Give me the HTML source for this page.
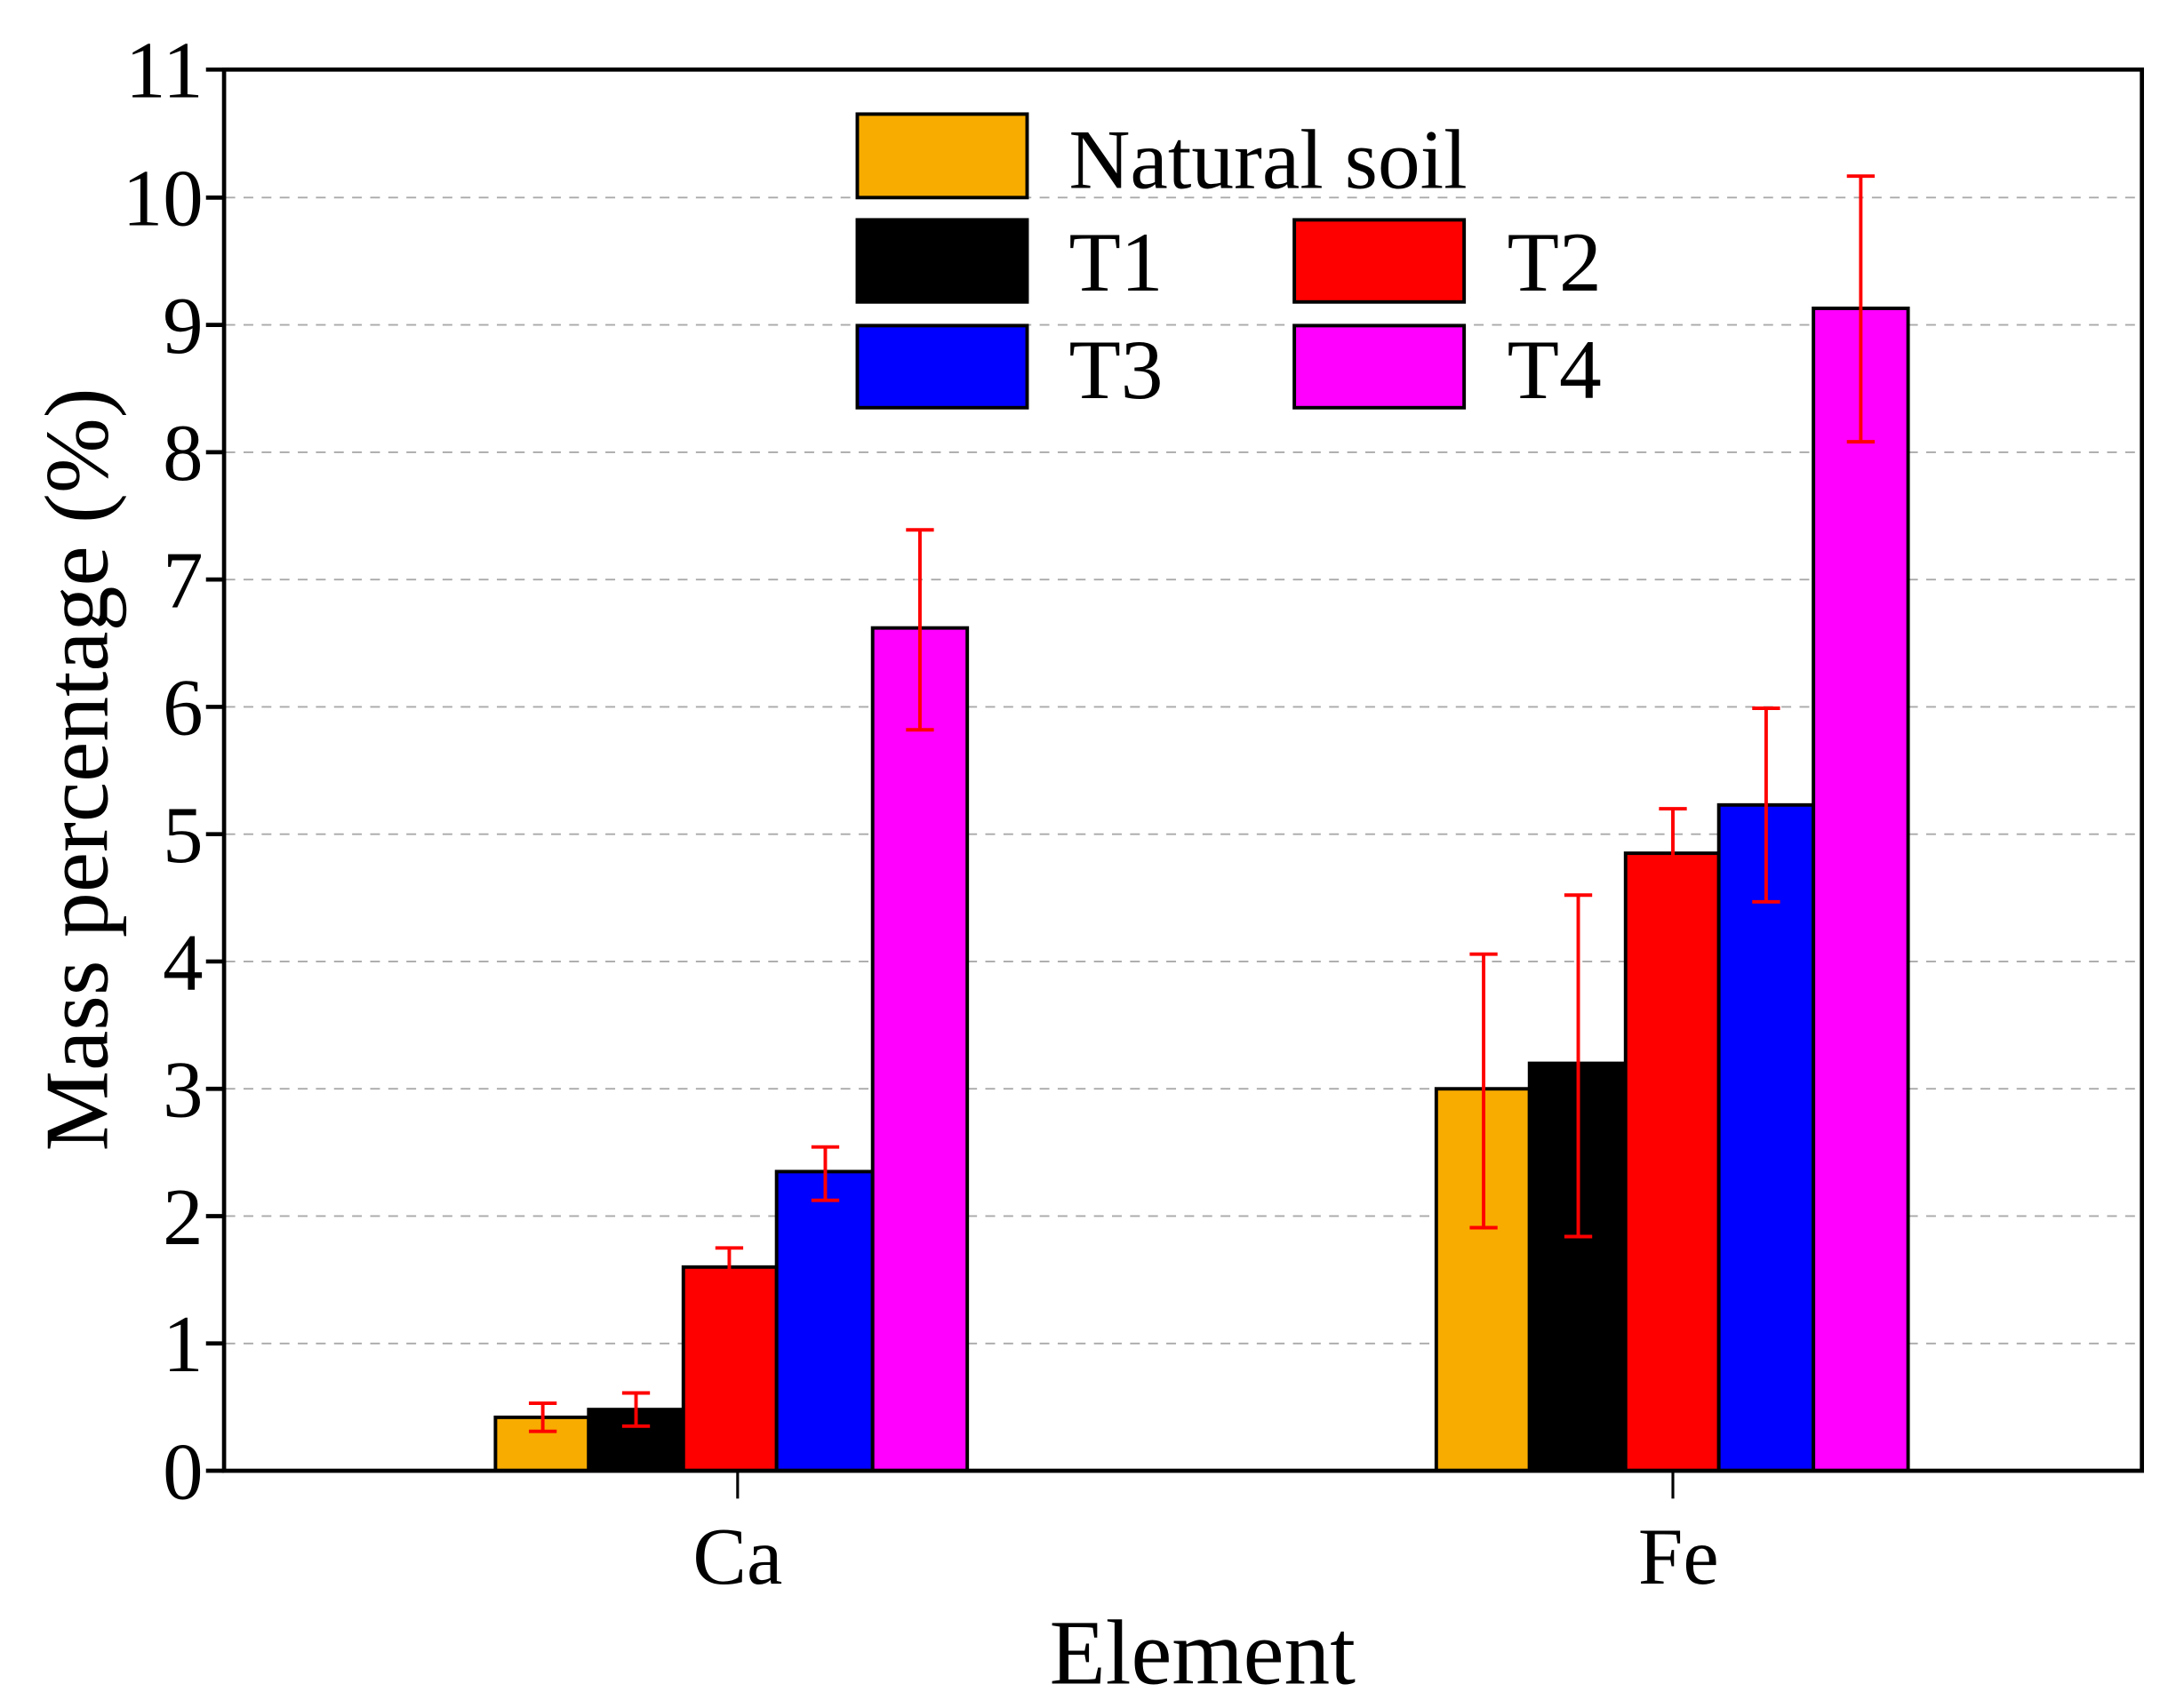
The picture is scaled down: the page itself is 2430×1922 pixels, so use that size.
<!DOCTYPE html>
<html><head><meta charset="utf-8"><style>html,body{margin:0;padding:0;background:#fff}svg{display:block}</style></head>
<body>
<svg width="2430" height="1922" viewBox="0 0 1552 1227.5" preserveAspectRatio="none" xmlns="http://www.w3.org/2000/svg" font-family="Liberation Serif, serif">
<rect width="1552" height="1227.5" fill="#fff"/>
<g stroke="#aaa" stroke-width="1.2" stroke-dasharray="7,6">
<line x1="162" x2="1538" y1="965.5" y2="965.5"/>
<line x1="162" x2="1538" y1="874" y2="874"/>
<line x1="162" x2="1538" y1="782.5" y2="782.5"/>
<line x1="162" x2="1538" y1="691" y2="691"/>
<line x1="162" x2="1538" y1="599.5" y2="599.5"/>
<line x1="162" x2="1538" y1="508" y2="508"/>
<line x1="162" x2="1538" y1="416.5" y2="416.5"/>
<line x1="162" x2="1538" y1="325" y2="325"/>
<line x1="162" x2="1538" y1="233.5" y2="233.5"/>
<line x1="162" x2="1538" y1="142" y2="142"/>
</g>
<g stroke="#000" stroke-width="2.5">
<rect x="356" y="1018.6" width="67" height="38.4" fill="#f8ac00"/>
<rect x="423" y="1013" width="68" height="44" fill="#000"/>
<rect x="491" y="910.6" width="67" height="146.4" fill="#ff0000"/>
<rect x="558" y="842" width="69" height="215" fill="#0000ff"/>
<rect x="627" y="451.3" width="68" height="605.7" fill="#ff00ff"/>
<rect x="1032" y="782.5" width="67" height="274.5" fill="#f8ac00"/>
<rect x="1099" y="764.2" width="69" height="292.8" fill="#000"/>
<rect x="1168" y="613.2" width="67" height="443.8" fill="#ff0000"/>
<rect x="1235" y="578.5" width="68" height="478.5" fill="#0000ff"/>
<rect x="1303" y="221.6" width="68" height="835.4" fill="#ff00ff"/>
</g>
<g stroke="#f00" stroke-width="2.5" fill="none">
<path d="M390 1008.5V1028.7M380 1008.5H400M380 1028.7H400"/>
<path d="M457 1001.1V1024.9M447 1001.1H467M447 1024.9H467"/>
<path d="M524 896.9V924.4M514 896.9H534M514 924.4H534"/>
<path d="M593 824.3V862.6M583 824.3H603M583 862.6H603"/>
<path d="M661 380.8V524.5M651 380.8H671M651 524.5H671"/>
<path d="M1066 685.7V882.3M1056 685.7H1076M1056 882.3H1076"/>
<path d="M1134 643.3V888.7M1124 643.3H1144M1124 888.7H1144"/>
<path d="M1202 581.2V645.2M1192 581.2H1212M1192 645.2H1212"/>
<path d="M1269 509V648.1M1259 509H1279M1259 648.1H1279"/>
<path d="M1337 126.6V317.5M1327 126.6H1347M1327 317.5H1347"/>
</g>
<rect x="161" y="50" width="1378" height="1007" fill="none" stroke="#000" stroke-width="3"/>
<g stroke="#000" stroke-width="3">
<line x1="148" x2="161" y1="1057" y2="1057"/><line x1="148" x2="161" y1="965.5" y2="965.5"/>
<line x1="148" x2="161" y1="874" y2="874"/><line x1="148" x2="161" y1="782.5" y2="782.5"/>
<line x1="148" x2="161" y1="691" y2="691"/><line x1="148" x2="161" y1="599.5" y2="599.5"/>
<line x1="148" x2="161" y1="508" y2="508"/><line x1="148" x2="161" y1="416.5" y2="416.5"/>
<line x1="148" x2="161" y1="325" y2="325"/><line x1="148" x2="161" y1="233.5" y2="233.5"/>
<line x1="148" x2="161" y1="142" y2="142"/><line x1="148" x2="161" y1="50" y2="50"/>
<line x1="530" x2="530" y1="1057" y2="1077" stroke-width="2"/>
<line x1="1202" x2="1202" y1="1057" y2="1077" stroke-width="2"/>
</g>
<g font-size="58" text-anchor="end" fill="#000">
<text x="146" y="1077">0</text><text x="146" y="985.5">1</text><text x="146" y="894">2</text>
<text x="146" y="802.5">3</text><text x="146" y="711">4</text><text x="146" y="619.5">5</text>
<text x="146" y="528">6</text><text x="146" y="436.5">7</text><text x="146" y="345">8</text>
<text x="146" y="253.5">9</text><text x="146" y="162">10</text><text x="146" y="70">11</text>
</g>
<g font-size="58" text-anchor="middle">
<text x="530" y="1138">Ca</text><text x="1206" y="1138">Fe</text>
<text x="864" y="1210" font-size="66">Element</text>
<text transform="translate(77,553) rotate(-90)" font-size="65">Mass percentage (%)</text>
</g>
<g stroke="#000" stroke-width="2.5">
<rect x="616" y="82" width="122" height="60" fill="#f8ac00"/>
<rect x="616" y="158" width="122" height="59" fill="#000"/>
<rect x="930" y="158" width="122" height="59" fill="#ff0000"/>
<rect x="616" y="234" width="122" height="59" fill="#0000ff"/>
<rect x="930" y="234" width="122" height="59" fill="#ff00ff"/>
</g>
<g font-size="61">
<text x="768" y="135">Natural soil</text>
<text x="768" y="209">T1</text><text x="1083" y="209">T2</text>
<text x="768" y="286">T3</text><text x="1083" y="286">T4</text>
</g>
</svg>
</body></html>
